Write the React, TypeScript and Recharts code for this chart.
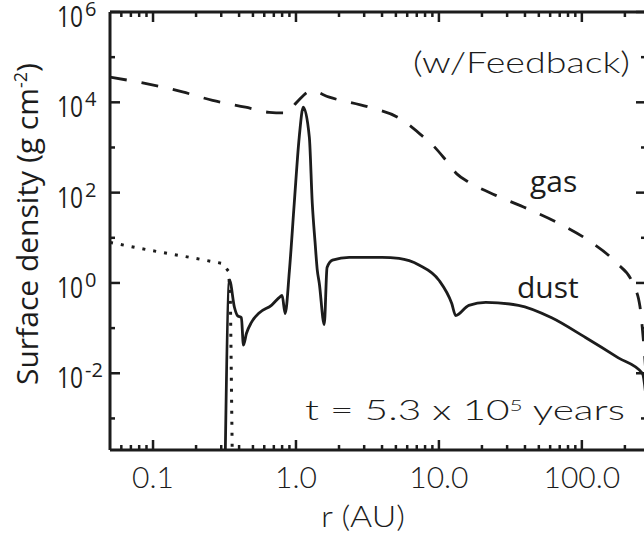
import { Line, LineChart, ReferenceLine, XAxis, YAxis } from "recharts";

// radius (AU) and surface density (g cm^-2)
const GAS_R = [0.05, 0.095, 0.161, 0.261, 0.443, 0.65, 0.86, 1.0, 1.28, 1.71, 3.25, 5.26, 7.5, 9.2, 11.2, 13.4, 16.2, 25, 41, 71, 111, 172, 230, 255, 270, 285];
const GAS_SIGMA = [3.6e4, 2.5e4, 1.7e4, 1.1e4, 7.8e3, 6.0e3, 5.8e3, 9.6e3, 1.8e4, 1.3e4, 7.8e3, 4.5e3, 1.9e3, 1.07e3, 520, 257, 170, 87, 45, 20, 8.8, 2.9, 0.9, 0.3, 0.05, 0.005];

const DUST_R = [0.316, 0.343, 0.371, 0.389, 0.415, 0.429, 0.45, 0.488, 0.555, 0.673, 0.777, 0.8, 0.84, 0.9, 0.973, 1.054, 1.125, 1.24, 1.3, 1.36, 1.41, 1.455, 1.577, 1.65, 1.8, 2.36, 4.0, 5.26, 7.25, 10, 12.3, 13.1, 16.2, 21.3, 36, 61.5, 106, 180, 265, 290];
const DUST_SIGMA = [1e-5, 1.15, 0.29, 0.19, 0.17, 0.042, 0.076, 0.134, 0.22, 0.32, 0.5, 0.53, 0.21, 1.9, 59, 1.7e3, 7.8e3, 1.7e3, 59, 8, 1.9, 1.0, 0.12, 2.2, 3.2, 3.7, 3.7, 3.5, 2.5, 1.15, 0.35, 0.19, 0.32, 0.37, 0.32, 0.17, 0.062, 0.022, 0.01, 0.001];

const NOFB_R = [0.05, 0.095, 0.18, 0.307, 0.338, 0.348, 0.362];
const NOFB_SIGMA = [7.9, 5.3, 3.7, 2.7, 1.8, 0.36, 1e-5];

const X_MAJOR = [0.1, 1, 10, 100];
const X_MAJOR_LABELS = ["0.1", "1.0", "10.0", "100.0"];
const X_MINOR = [0.06, 0.07, 0.08, 0.09, 0.2, 0.3, 0.4, 0.5, 0.6, 0.7, 0.8, 0.9, 2, 3, 4, 5, 6, 7, 8, 9, 20, 30, 40, 50, 60, 70, 80, 90, 200];
const Y_MAJOR = [1e-2, 1, 1e2, 1e4, 1e6];
const Y_MAJOR_EXP = ["-2", "0", "2", "4", "6"];
const Y_MINOR = [1e-3, 1e-1, 10, 1e3, 1e5];

const X_DOMAIN = [0.05, 281];
const Y_DOMAIN = [2e-4, 1e6];

// plot frame (px)
const TOP = 12;
const BOTTOM = 450;
const LEFT = 110;
const RIGHT = 646;
const CHART_W = 690;
const CHART_H = 539;

const INK = "#1c1c1c";
const SANS = "'Open Sans', 'Noto Sans', sans-serif";
const IDL = "Lato, 'DejaVu Sans', sans-serif";

const gasData = GAS_R.map((r, i) => ({ r, s: GAS_SIGMA[i] }));
const dustData = DUST_R.map((r, i) => ({ r, s: DUST_SIGMA[i] }));
const nofbData = NOFB_R.map((r, i) => ({ r, s: NOFB_SIGMA[i] }));

const X_TICKS = [...X_MAJOR, ...X_MINOR].sort((a, b) => a - b);
const Y_TICKS = [...Y_MAJOR, ...Y_MINOR].sort((a, b) => a - b);

function XLabel({ x, payload }: any) {
  const i = X_MAJOR.indexOf(payload.value);
  if (i < 0) return <g />;
  return (
    <text x={x} y={BOTTOM + 38} textAnchor="middle" fontFamily={IDL} fontWeight={300} fontSize={30} fill={INK}>
      {X_MAJOR_LABELS[i]}
    </text>
  );
}

function YLabel({ y, payload }: any) {
  const i = Y_MAJOR.indexOf(payload.value);
  if (i < 0) return <g />;
  return (
    <g fill={INK} fontFamily={SANS}>
      <text x={LEFT - 53} y={y + 15} fontSize={30} textLength={26} lengthAdjust="spacingAndGlyphs">10</text>
      <text x={LEFT - 25} y={y + 4} fontSize={20}>{Y_MAJOR_EXP[i]}</text>
    </g>
  );
}

// inward tick marks at both ends of a reference line
function XMarks(p: any, len: number) {
  const top = Math.min(p.y1, p.y2);
  const bot = Math.max(p.y1, p.y2);
  return (
    <g stroke={INK} strokeWidth={2.5}>
      <line x1={p.x1} x2={p.x1} y1={top} y2={top + len} />
      <line x1={p.x1} x2={p.x1} y1={bot} y2={bot - len} />
    </g>
  );
}

function YMarks(p: any, len: number) {
  const l = Math.min(p.x1, p.x2);
  const r = Math.max(p.x1, p.x2);
  return (
    <g stroke={INK} strokeWidth={2.5}>
      <line x1={l} x2={l + len} y1={p.y1} y2={p.y1} />
      <line x1={r} x2={r - len} y1={p.y1} y2={p.y1} />
    </g>
  );
}

const axisLine = { stroke: INK, strokeWidth: 3 };

export default function App() {
  return (
    <div style={{ position: "fixed", left: 0, top: 0, width: 644, height: 539, overflow: "hidden", background: "#fff" }}>
      <LineChart width={CHART_W} height={CHART_H} margin={{ top: 0, right: 0, bottom: 0, left: 0 }}>
        <XAxis xAxisId="b" dataKey="r" type="number" scale="log" domain={X_DOMAIN} allowDataOverflow
          ticks={X_TICKS} interval={0} tickSize={0} tickMargin={0} tickLine={false} axisLine={axisLine}
          height={CHART_H - BOTTOM} tick={(p: any) => <XLabel {...p} />} />
        <XAxis xAxisId="t" orientation="top" dataKey="r" type="number" scale="log" domain={X_DOMAIN} allowDataOverflow
          tick={false} tickLine={false} axisLine={axisLine} height={TOP} />
        <YAxis yAxisId="l" dataKey="s" type="number" scale="log" domain={Y_DOMAIN} allowDataOverflow
          ticks={Y_TICKS} interval={0} tickSize={0} tickMargin={0} tickLine={false} axisLine={axisLine}
          width={LEFT} tick={(p: any) => <YLabel {...p} />} />
        <YAxis yAxisId="r" orientation="right" dataKey="s" type="number" scale="log" domain={Y_DOMAIN} allowDataOverflow
          tick={false} tickLine={false} axisLine={axisLine} width={CHART_W - RIGHT} />
        {X_TICKS.map((v) => (
          <ReferenceLine key={`x${v}`} xAxisId="b" yAxisId="l" x={v} ifOverflow="visible"
            shape={(p: any) => XMarks(p, X_MAJOR.includes(v) ? 10 : 5)} />
        ))}
        {Y_TICKS.map((v) => (
          <ReferenceLine key={`y${v}`} xAxisId="b" yAxisId="l" y={v} ifOverflow="visible"
            shape={(p: any) => YMarks(p, Y_MAJOR.includes(v) ? 10 : 5)} />
        ))}
        <Line xAxisId="b" yAxisId="l" data={gasData} dataKey="s" type="monotone" stroke={INK} strokeWidth={2.8}
          strokeDasharray="17 15" dot={false} isAnimationActive={false} />
        <Line xAxisId="b" yAxisId="l" data={dustData} dataKey="s" type="monotone" stroke={INK} strokeWidth={2.8}
          dot={false} isAnimationActive={false} />
        <Line xAxisId="b" yAxisId="l" data={nofbData} dataKey="s" type="linear" stroke={INK} strokeWidth={3}
          strokeDasharray="3 8" dot={false} isAnimationActive={false} />
      </LineChart>
      <svg width={644} height={539} style={{ position: "absolute", left: 0, top: 0, pointerEvents: "none" }}>
        <text transform="translate(38,224) rotate(-90)" textAnchor="middle" fontFamily={SANS} fontSize={30}
          fill={INK} textLength={322} lengthAdjust="spacingAndGlyphs">
          Surface density (g cm<tspan dy={-11} fontSize={18}>-2</tspan><tspan dy={11}>)</tspan>
        </text>
        <text x={363} y={527} textAnchor="middle" fontFamily={IDL} fontWeight={300} fontSize={30} fill={INK}
          textLength={84} lengthAdjust="spacingAndGlyphs">r (AU)</text>
        <text x={413} y={73} fontFamily={IDL} fontWeight={300} fontSize={29} fill={INK}
          textLength={217} lengthAdjust="spacingAndGlyphs">(w/Feedback)</text>
        <text x={530} y={192} fontFamily={SANS} fontSize={30} fill={INK}>gas</text>
        <text x={517} y={298} fontFamily={SANS} fontSize={30} fill={INK}>dust</text>
        <text x={305} y={420} fontFamily={IDL} fontWeight={300} fontSize={27} fill={INK}
          textLength={320} lengthAdjust="spacingAndGlyphs">
          t = 5.3 x 10<tspan dy={-9} fontSize={15}>5</tspan><tspan dy={9}> years</tspan>
        </text>
      </svg>
    </div>
  );
}
